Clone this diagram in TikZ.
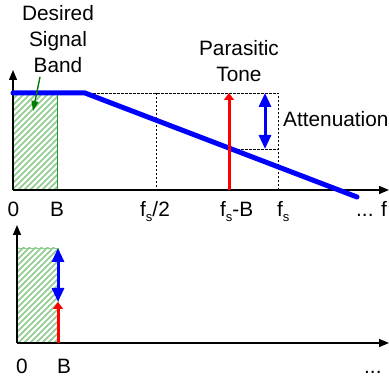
\documentclass[tikz,border=0pt]{standalone}
\usepackage{fontspec}
\setmainfont{Liberation Sans}
\usetikzlibrary{arrows.meta}
\definecolor{hatchc}{RGB}{140,205,140}
\definecolor{greenc}{RGB}{30,150,60}
\definecolor{ptrgreen}{RGB}{0,125,0}
\begin{document}
\begin{tikzpicture}[x=1pt,y=-1pt,
  lbl/.style={font=\fontsize{20.8}{26}\selectfont, inner sep=0pt},
  axis/.style={line width=1.3pt,-{Triangle[width=8pt,length=10pt]}},
  resp/.style={line width=5pt,color=blue,line cap=round},
  tone/.style={line width=3pt,color=red,-{Triangle[width=10pt,length=7pt]}},
  atten/.style={line width=3pt,color=blue,{Triangle[width=12pt,length=14pt]}-{Triangle[width=12pt,length=14pt]}},
  guide/.style={line width=0.9pt,dash pattern=on 2.5pt off 1.5pt},
  hatchline/.style={line width=1.6pt,color=hatchc},
  pointer/.style={line width=1.4pt,color=ptrgreen,-{Triangle[width=7pt,length=10pt]}}]
\useasboundingbox (0,0) rectangle (389,379);
\fill[white] (0,0) rectangle (389,379);
% ---------- top plot ----------
\coordinate (o1) at (13,190);
\coordinate (y1) at (13,70);
\coordinate (x1) at (389,190);
\coordinate (bt1) at (57,190);
\coordinate (bb1) at (57,93);
\coordinate (r0) at (13,93);
\coordinate (knee) at (85,93);
\coordinate (rend) at (357,197);
\coordinate (fhtop) at (156,93);
\coordinate (fhbot) at (156,190);
\coordinate (fstop) at (278,93);
\coordinate (fsbot) at (278,190);
\coordinate (tbot) at (229,190);
\coordinate (ttop) at (229,93);
\coordinate (tcross) at (229,149);
\coordinate (scross) at (278,149);
\coordinate (atop) at (265,93);
\coordinate (abot) at (265,149);
\begin{scope}
  \clip (r0) rectangle (bt1);
  \foreach \i in {-120,-114,...,60} \draw[hatchline] (\i,190) -- ++(110,-110);
\end{scope}
\draw[line width=0.9pt,greenc] (bb1) -- (bt1);
\draw[guide] (knee) -- (fstop) -- (fsbot);
\draw[guide] (fhtop) -- (fhbot);
\draw[guide] (tcross) -- (scross);
\draw[axis] (o1) -- (x1);
\draw[axis] (o1) -- (y1);
\draw[resp] (r0) -- (knee) -- (rend);
\draw[tone] (tbot) -- (ttop);
\draw[atten] (atop) -- (abot);
% labels top
\node[lbl,align=center,anchor=base] (dsb) at (58,73) {Desired\\Signal\\Band};
\coordinate (ptrs) at (40,77);
\coordinate (ptre) at (33,111);
\draw[pointer] (ptrs) -- (ptre);
\node[lbl,align=center,anchor=base] (pt) at (239,82) {Parasitic\\Tone};
\node[lbl,anchor=base west] (att) at (283,127) {Attenuation};
\node[lbl,anchor=base] (l0a) at (13.5,217) {0};
\node[lbl,anchor=base] (lBa) at (57,217) {B};
\node[lbl,anchor=base west] (lfh) at (140,217) {f\raisebox{-5pt}{\fontsize{13}{13}\selectfont s}/2};
\node[lbl,anchor=base west] (lfsb) at (220,217) {f\raisebox{-5pt}{\fontsize{13}{13}\selectfont s}-B};
\node[lbl,anchor=base west] (lfs) at (277,217) {f\raisebox{-5pt}{\fontsize{13}{13}\selectfont s}};
\node[lbl,anchor=base west] (ldf) at (356,217) {... f};
% ---------- bottom plot ----------
\coordinate (o2) at (17,343);
\coordinate (y2) at (17,225);
\coordinate (x2) at (389,343);
\coordinate (r2tl) at (17,248);
\coordinate (r2br) at (58,343);
\coordinate (t2bot) at (58,343);
\coordinate (t2top) at (58,302);
\coordinate (a2top) at (58,248);
\begin{scope}
  \clip (r2tl) rectangle (r2br);
  \foreach \i in {-120,-114,...,60} \draw[hatchline] (\i,343) -- ++(110,-110);
\end{scope}
\draw[line width=0.6pt,hatchc] (r2tl) rectangle (r2br);
\draw[axis] (o2) -- (x2);
\draw[axis] (o2) -- (y2);
\draw[tone] (t2bot) -- (t2top);
\draw[atten] (a2top) -- (t2top);
\node[lbl,anchor=base] (l0b) at (22,374) {0};
\node[lbl,anchor=base] (lBb) at (64,374) {B};
\node[lbl,anchor=base west] (ldb) at (364,374) {...};
\end{tikzpicture}
\end{document}
